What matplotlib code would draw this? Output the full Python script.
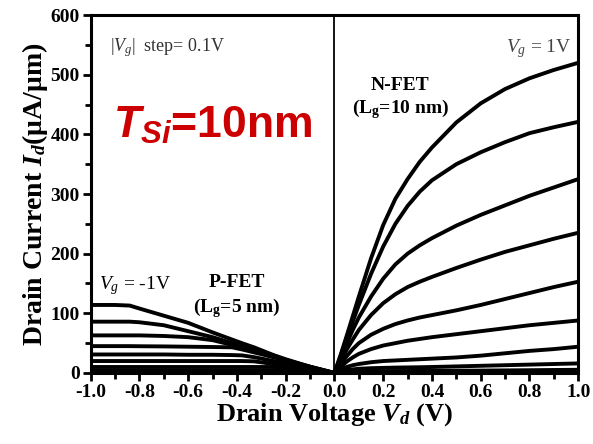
import numpy as np
import matplotlib
matplotlib.use("Agg")
import matplotlib.pyplot as plt
from matplotlib.ticker import MultipleLocator

# font setup: Times-like serif for the plot, sans for the red T_Si label
plt.rcParams['font.family'] = 'Liberation Serif'
plt.rcParams['axes.unicode_minus'] = False
plt.rcParams['mathtext.fontset'] = 'custom'
plt.rcParams['mathtext.rm'] = 'Liberation Serif'
plt.rcParams['mathtext.it'] = 'Liberation Serif:italic'
plt.rcParams['mathtext.bf'] = 'Liberation Serif:bold'
plt.rcParams['mathtext.cal'] = 'Liberation Serif:italic:bold'
plt.rcParams['mathtext.sf'] = 'Liberation Sans:italic:bold'

# N-FET output curves, Vg = 1.0 ... 0.1 V
vd_n = [0, 0.025, 0.05, 0.075, 0.1, 0.15, 0.2, 0.25, 0.3, 0.35, 0.4,
        0.5, 0.6, 0.7, 0.8, 0.9, 1.0]
id_n = [
    [0, 30, 62, 95, 128, 192, 248, 292, 325, 354, 378, 420, 452, 476, 494, 508, 520],
    [0, 28, 57, 86, 114, 166, 212, 250, 280, 304, 323, 350, 370, 387, 402, 412, 421],
    [0, 25, 49, 72, 93, 128, 158, 182, 200, 214, 226, 247, 265, 281, 297, 311, 325],
    [0, 20, 39, 56, 72, 97, 117, 132, 144, 153, 161, 176, 190, 203, 214, 225, 235],
    [0, 15, 28, 40, 50, 64, 74, 82, 88, 93, 97, 105, 114, 124, 134, 144, 153],
    [0, 10, 19, 26, 32, 40, 46, 50, 54, 57, 60, 65, 70, 75, 80, 84, 88],
    [0, 6, 10, 13, 15, 18, 20, 21, 22, 23, 24, 26, 29, 33, 37, 40, 44],
    [0, 3, 5, 6, 7, 8, 8.5, 9, 9.3, 9.6, 10, 11, 12, 13, 14, 15, 16],
    [0, 1, 2, 2.5, 3, 3, 3.1, 3.2, 3.3, 3.4, 3.5, 3.8, 4, 4.3, 4.6, 5, 5.3],
    [0, 0.3, 0.5, 0.7, 0.8, 1, 1, 1, 1, 1.1, 1.1, 1.2, 1.3, 1.4, 1.5, 1.6, 1.7],
]

# P-FET output curves, Vg = -1.0 ... -0.1 V
vd_p = [-1.0, -0.9, -0.84, -0.8, -0.7, -0.6, -0.5, -0.42, -0.38, -0.33,
        -0.25, -0.2, -0.1, 0.0]
id_p = [
    [114, 114, 113, 108, 96, 84, 68, 56, 50, 43, 30, 23, 10.5, 0],
    [86, 86, 86, 85, 80, 70, 60, 50, 45, 39, 29, 22, 10, 0],
    [63, 63, 63, 63, 62, 60, 55, 47, 42, 36, 27, 20, 9.5, 0],
    [45, 45, 45, 44.8, 44.5, 44, 43.5, 43, 39.5, 34.5, 26.5, 21, 10.5, 0],
    [31, 31, 31, 31, 31, 30.5, 30.5, 30, 29.5, 26.5, 20, 16, 8, 0],
    [20, 20, 20, 20, 20, 20, 20, 20, 20, 19.5, 15, 12, 6, 0],
    [10, 10, 10, 10, 10, 10, 10, 10, 10, 10, 10, 8, 4, 0],
    [4, 4, 4, 4, 4, 4, 4, 4, 4, 4, 4, 4, 2, 0],
    [1.2, 1.2, 1.2, 1.2, 1.2, 1.2, 1.2, 1.2, 1.2, 1.2, 1.2, 1.2, 0.6, 0],
    [0.3, 0.3, 0.3, 0.3, 0.3, 0.3, 0.3, 0.3, 0.3, 0.3, 0.3, 0.3, 0.2, 0],
]

fig = plt.figure(figsize=(5.93, 4.44), dpi=100)
ax = fig.add_axes([0.153, 0.160, 0.822, 0.806])

for curve in id_n:
    ax.plot(vd_n, curve, color='black', lw=2.8, solid_capstyle='butt')
for curve in id_p:
    ax.plot(vd_p, curve, color='black', lw=2.8, solid_capstyle='butt')

ax.axvline(0, color='black', lw=1.3)

ax.set_xlim(-1.0, 1.0)
ax.set_ylim(0, 600)
ax.xaxis.set_major_locator(MultipleLocator(0.2))
ax.xaxis.set_minor_locator(MultipleLocator(0.1))
ax.yaxis.set_major_locator(MultipleLocator(100))
ax.yaxis.set_minor_locator(MultipleLocator(50))
ax.set_xticks(np.arange(-1.0, 1.01, 0.2))
ax.set_xticklabels(['-1.0', '-0.8', '-0.6', '-0.4', '-0.2', '0.0',
                    '0.2', '0.4', '0.6', '0.8', '1.0'])
ax.tick_params(which='major', direction='out', length=6, width=2,
               labelsize=14, pad=2)
ax.tick_params(which='minor', direction='out', length=4, width=2)
for lab in ax.get_xticklabels() + ax.get_yticklabels():
    lab.set_fontweight('bold')
for s in ax.spines.values():
    s.set_linewidth(2.2)

ax.set_xlabel(r'Drain Voltage $\mathcal{V}_{\mathcal{d}}$ (V)',
              fontsize=19, fontweight='bold', labelpad=0)
ax.set_ylabel(r'Drain Current $\mathcal{I}_{\mathcal{d}}$($\mathbf{\mu}$A/$\mathbf{\mu}$m)',
              fontsize=20, fontweight='bold', labelpad=0)

# annotations
ax.text(-0.92, 546, r'$|V_g|$  step= 0.1V', fontsize=13, color='#333333',
        va='center', ha='left')
ax.text(-0.91, 415, r'$\mathsf{T}_{\mathsf{Si}}$=10nm', fontsize=32,
        family='Liberation Sans', fontweight='bold', color='#cc0000',
        va='center', ha='left')
ax.text(0.27, 482, 'N-FET', fontsize=14, fontweight='bold',
        ha='center', va='center')
ax.text(0.27, 442, r'(L$_{\mathbf{g}}$=10 nm)', fontsize=14, fontweight='bold',
        ha='center', va='center')
ax.text(0.84, 544, r'$V_g$ = 1V', fontsize=14, color='#444444',
        ha='center', va='center')
ax.text(-0.965, 147, r'$V_g$ = -1V', fontsize=14, ha='left', va='center')
ax.text(-0.40, 151, 'P-FET', fontsize=14, fontweight='bold',
        ha='center', va='center')
ax.text(-0.40, 108, r'(L$_{\mathbf{g}}$=5 nm)', fontsize=14, fontweight='bold',
        ha='center', va='center')

fig.savefig('out.png', dpi=100)
